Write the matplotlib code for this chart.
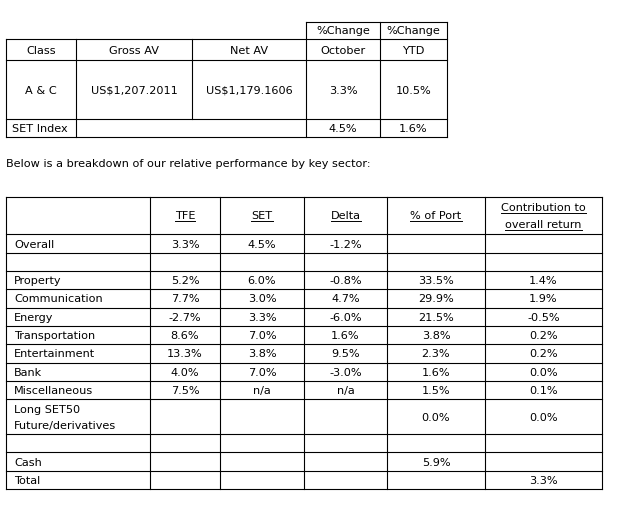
import matplotlib.pyplot as plt

# top summary table
top_head1 = ["", "", "", "%Change", "%Change"]
top_head2 = ["Class", "Gross AV", "Net AV", "October", "YTD"]
fund_row = ["A & C", "US$1,207.2011", "US$1,179.1606", "3.3%", "10.5%"]
index_label = "SET Index"
index_oct = "4.5%"
index_ytd = "1.6%"

caption = "Below is a breakdown of our relative performance by key sector:"

# sector table
sector_head = ["", "TFE", "SET", "Delta", "% of Port", "Contribution to\noverall return"]
sectors = ["Overall", "", "Property", "Communication", "Energy", "Transportation",
           "Entertainment", "Bank", "Miscellaneous", "Long SET50\nFuture/derivatives",
           "", "Cash", "Total"]
tfe = ["3.3%", "", "5.2%", "7.7%", "-2.7%", "8.6%", "13.3%", "4.0%", "7.5%", "", "", "", ""]
set_idx = ["4.5%", "", "6.0%", "3.0%", "3.3%", "7.0%", "3.8%", "7.0%", "n/a", "", "", "", ""]
delta = ["-1.2%", "", "-0.8%", "4.7%", "-6.0%", "1.6%", "9.5%", "-3.0%", "n/a", "", "", "", ""]
port = ["", "", "33.5%", "29.9%", "21.5%", "3.8%", "2.3%", "1.6%", "1.5%", "0.0%", "", "5.9%", ""]
contrib = ["", "", "1.4%", "1.9%", "-0.5%", "0.2%", "0.2%", "0.0%", "0.1%", "0.0%", "", "", "3.3%"]

# layout (pixels)
FS = 8.1
LW = 0.8
top_x = [6, 76, 192, 306, 380, 447]
top_y = [22, 39, 60, 119, 137]
sec_x = [6, 150, 220, 304, 387, 485, 602]
sec_y = [197, 234, 253, 271, 289.3, 307.6, 325.9, 344.2, 362.5, 380.8, 399, 434.3, 452.3, 470.7, 489]

fig = plt.figure(figsize=(6.17, 5.05), dpi=100)
ax = fig.add_axes([0, 0, 1, 1])
ax.set_xlim(0, 617)
ax.set_ylim(505, 0)
ax.axis("off")


def hline(y, x0, x1):
    ax.plot([x0, x1], [y, y], color="black", lw=LW, solid_capstyle="projecting")


def vline(x, y0, y1):
    ax.plot([x, x], [y0, y1], color="black", lw=LW, solid_capstyle="projecting")


def txt(x, y, s, ha="center"):
    return ax.text(x, y, s, ha=ha, va="center", fontsize=FS, color="black",
                   family="DejaVu Sans", linespacing=1.75)


# ---- top table grid
hline(top_y[0], top_x[3], top_x[5])
for y in top_y[1:]:
    hline(y, top_x[0], top_x[5])
vline(top_x[0], top_y[1], top_y[4])
vline(top_x[1], top_y[1], top_y[4])
vline(top_x[2], top_y[1], top_y[3])
for x in top_x[3:]:
    vline(x, top_y[0], top_y[4])

cx = [(a + b) / 2 for a, b in zip(top_x[:-1], top_x[1:])]
cy = [(a + b) / 2 for a, b in zip(top_y[:-1], top_y[1:])]
for i in range(5):
    if top_head1[i]:
        txt(cx[i], cy[0] + 1, top_head1[i])
    txt(cx[i], cy[1] + 1, top_head2[i])
    txt(cx[i], cy[2] + 1, fund_row[i])
txt(top_x[0] + 6, cy[3] + 1, index_label, ha="left")
txt(cx[3], cy[3] + 1, index_oct)
txt(cx[4], cy[3] + 1, index_ytd)

txt(top_x[0], 164, caption, ha="left")

# ---- sector table grid
for y in sec_y:
    hline(y, sec_x[0], sec_x[-1])
for x in sec_x:
    vline(x, sec_y[0], sec_y[-1])

scx = [(a + b) / 2 for a, b in zip(sec_x[:-1], sec_x[1:])]
scy = [(a + b) / 2 for a, b in zip(sec_y[:-1], sec_y[1:])]

head_texts = []
for j, h in enumerate(sector_head):
    if not h:
        continue
    if "\n" in h:
        parts = h.split("\n")
        head_texts.append(txt(scx[j], 208, parts[0]))
        head_texts.append(txt(scx[j], 225, parts[1]))
    else:
        head_texts.append(txt(scx[j], 216, h))

columns = [tfe, set_idx, delta, port, contrib]
for i, name in enumerate(sectors):
    y = scy[i + 1] + 1
    if name:
        txt(sec_x[0] + 8, y, name, ha="left")
    for j, col in enumerate(columns):
        if col[i]:
            txt(scx[j + 1], y, col[i])

# underline the header labels
fig.canvas.draw()
inv = ax.transData.inverted()
for t in head_texts:
    bb = t.get_window_extent()
    (x0, y0), (x1, y1) = inv.transform([[bb.x0, bb.y0], [bb.x1, bb.y1]])
    ax.plot([x0, x1], [y0 + 0.3, y0 + 0.3], color="black", lw=0.7)

fig.savefig("out.png", dpi=100)
